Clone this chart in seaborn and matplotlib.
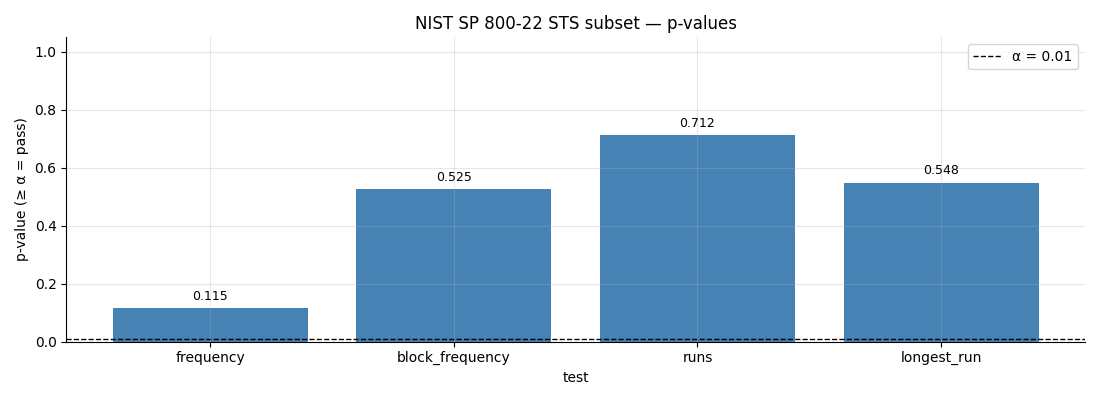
import matplotlib
matplotlib.use("Agg")
import matplotlib.pyplot as plt
import seaborn as sns
import pandas as pd

# STS subset results
tests = ['frequency', 'block_frequency', 'runs', 'longest_run']
p_values = [0.115, 0.525, 0.712, 0.548]
alpha = 0.01

df = pd.DataFrame({'test': tests, 'p_value': p_values})

fig, ax = plt.subplots(figsize=(11, 4), dpi=100)
sns.barplot(data=df, x='test', y='p_value', color='steelblue', saturation=1, width=0.8, ax=ax)

for bar, p in zip(ax.patches, p_values):
    ax.annotate(f'{p:.3f}', (bar.get_x() + bar.get_width() / 2, bar.get_height()),
                xytext=(0, 4), textcoords='offset points', ha='center', va='bottom', fontsize=9)

ax.axhline(alpha, color='black', linestyle='--', linewidth=1, label=f'α = {alpha}')
# matplotlib-style 5% margins around the bars instead of seaborn's categorical limits
pad = 0.05 * (len(tests) - 0.2)
ax.set_xlim(-0.4 - pad, len(tests) - 0.6 + pad)
ax.set_ylim(0, 1.05)
ax.set_title('NIST SP 800-22 STS subset — p-values')
ax.set_xlabel('test')
ax.set_ylabel('p-value (≥ α = pass)')
ax.grid(True, alpha=0.3)
ax.set_axisbelow(False)
ax.spines['top'].set_visible(False)
ax.spines['right'].set_visible(False)
ax.legend(loc='upper right')

plt.tight_layout()
plt.savefig('out.png')
